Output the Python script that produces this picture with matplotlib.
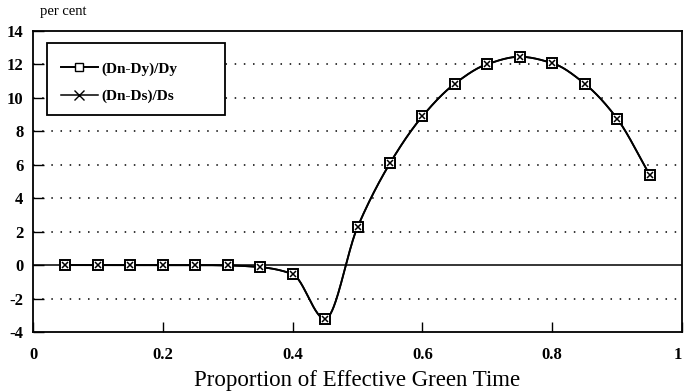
import numpy as np
import matplotlib
matplotlib.use("Agg")
import matplotlib.pyplot as plt
from matplotlib.patches import Rectangle

x_vals = [0.05, 0.10, 0.15, 0.20, 0.25, 0.30, 0.35, 0.40, 0.45, 0.50,
          0.55, 0.60, 0.65, 0.70, 0.75, 0.80, 0.85, 0.90, 0.95]
dy_vals = [0.0, 0.0, 0.0, 0.0, 0.0, -0.02, -0.12, -0.54, -3.22, 2.27,
           6.09, 8.9, 10.85, 12.02, 12.46, 12.08, 10.85, 8.76, 5.41]
ds_vals = [0.0, 0.0, 0.0, 0.0, 0.0, -0.02, -0.12, -0.54, -3.22, 2.27,
           6.09, 8.9, 10.85, 12.02, 12.46, 12.08, 10.85, 8.76, 5.41]
series_labels = ["(Dn-Dy)/Dy", "(Dn-Ds)/Ds"]
x_ticks = [0, 0.2, 0.4, 0.6, 0.8, 1]
x_ticklabels = ["0", "0.2", "0.4", "0.6", "0.8", "1"]
y_ticks = [-4, -2, 0, 2, 4, 6, 8, 10, 12, 14]


def pchip(x, y, n=800):
    """Monotone (Fritsch-Carlson) cubic curve through the points, for drawing."""
    x = np.asarray(x, float)
    y = np.asarray(y, float)
    h = np.diff(x)
    d = np.diff(y) / h
    k = len(x)
    m = np.zeros(k)
    for i in range(1, k - 1):
        if d[i - 1] * d[i] > 0:
            w1 = 2 * h[i] + h[i - 1]
            w2 = h[i] + 2 * h[i - 1]
            m[i] = (w1 + w2) / (w1 / d[i - 1] + w2 / d[i])
        else:
            m[i] = 0.0
    m[0] = d[0]
    m[-1] = d[-1]
    xs = np.linspace(x[0], x[-1], n)
    idx = np.clip(np.searchsorted(x, xs) - 1, 0, k - 2)
    t = (xs - x[idx]) / h[idx]
    h00 = 2 * t ** 3 - 3 * t ** 2 + 1
    h10 = t ** 3 - 2 * t ** 2 + t
    h01 = -2 * t ** 3 + 3 * t ** 2
    h11 = t ** 3 - t ** 2
    ys = (h00 * y[idx] + h10 * h[idx] * m[idx]
          + h01 * y[idx + 1] + h11 * h[idx] * m[idx + 1])
    return xs, ys


plt.rcParams['font.family'] = ['Liberation Serif', 'DejaVu Serif']
plt.rcParams['axes.unicode_minus'] = False

fig = plt.figure(figsize=(6.84, 3.92), dpi=100)
ax = fig.add_axes([33 / 684, 1 - 332 / 392, (682 - 33) / 684, (332 - 31) / 392])

for yv in [-2, 2, 4, 6, 8, 10, 12]:
    ax.axhline(yv, color="black", linestyle=(0, (1, 5)), linewidth=1.1, zorder=1)
ax.axhline(0, color="black", linewidth=1.1, zorder=1)

xs, ys = pchip(x_vals, dy_vals)
ax.plot(xs, ys, color="black", linewidth=1.3, zorder=2)
xs2, ys2 = pchip(x_vals, ds_vals)
ax.plot(xs2, ys2, color="black", linewidth=1.3, zorder=2)

ax.plot(x_vals, dy_vals, linestyle="none", marker="s", markersize=7,
        markerfacecolor="white", markeredgecolor="black", markeredgewidth=1.4, zorder=3)
ax.plot(x_vals, ds_vals, linestyle="none", marker="x", markersize=5,
        color="black", markeredgewidth=1.1, zorder=4)

# legend box (opaque, hides the grid behind it)
ax.add_patch(Rectangle((47 / 684, 1 - 115 / 392), 178 / 684, 72 / 392,
                       transform=fig.transFigure, facecolor="white",
                       edgecolor="black", linewidth=1.3, zorder=5))
h1, = ax.plot([], [], color="black", linewidth=1.4, marker="s", markersize=6,
              markerfacecolor="white", markeredgecolor="black")
h2, = ax.plot([], [], color="black", linewidth=1.1, marker="x", markersize=7)
leg = ax.legend([h1, h2], series_labels, loc="upper left",
                bbox_to_anchor=(61 / 684, 1 - 62 / 392),
                bbox_transform=fig.transFigure, frameon=False,
                prop={"size": 11, "weight": "bold"}, handlelength=2.4,
                handletextpad=0.25, borderpad=0, labelspacing=0.9,
                borderaxespad=0)
leg.set_zorder(6)

ax.set_xlim(0, 1)
ax.set_ylim(-4, 14)
ax.set_xticks(x_ticks)
ax.set_xticklabels(x_ticklabels)
ax.set_yticks(y_ticks)
ax.tick_params(direction="in", length=8, width=1, labelsize=12, pad=7)
ax.tick_params(axis="x", top=False, pad=11, length=7)
for lab in ax.get_xticklabels() + ax.get_yticklabels():
    lab.set_fontweight("bold")
ax.get_xticklabels()[-1].set_horizontalalignment("right")
for sp in ax.spines.values():
    sp.set_linewidth(1.3)
    sp.set_zorder(7)

ax.set_xlabel("Proportion of Effective Green Time", fontsize=16.5, labelpad=5)
fig.text(40 / 684, 1 - 12 / 392, "per cent", fontsize=10.5, ha="left", va="center")

fig.savefig("out.png", dpi=100)
